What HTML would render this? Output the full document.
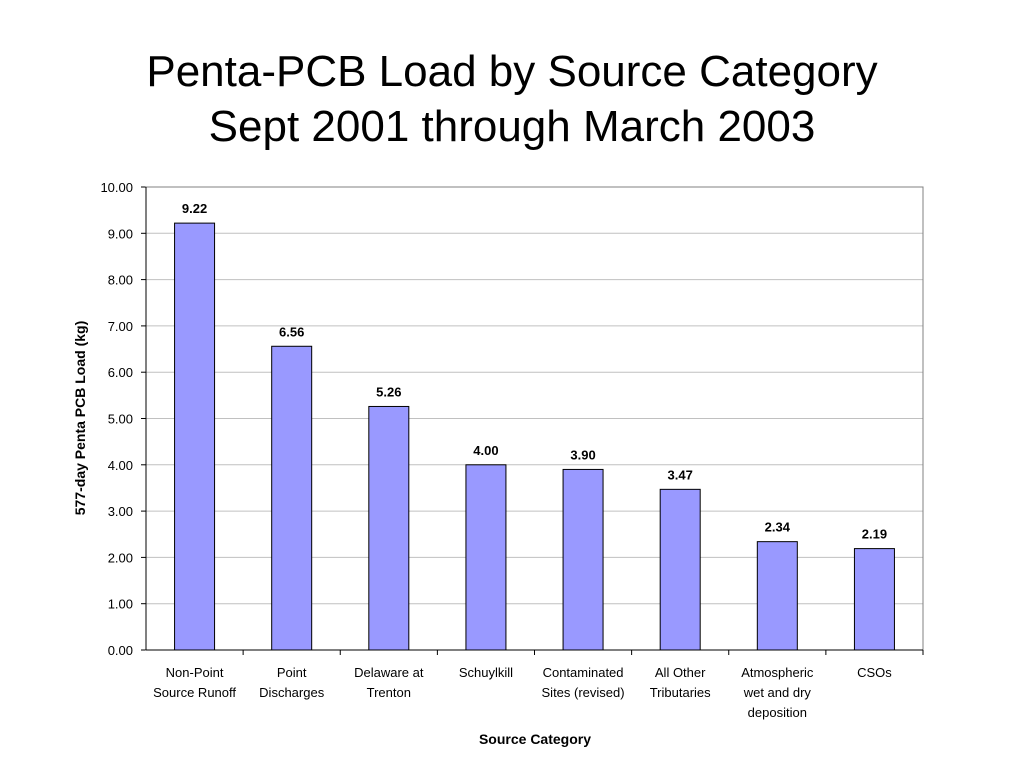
<!DOCTYPE html>
<html><head><meta charset="utf-8"><style>
body{margin:0;background:#fff;font-family:"Liberation Sans",sans-serif}
</style></head><body>
<svg width="1024" height="768">
<text x="512" y="86" text-anchor="middle" font-size="44">Penta-PCB Load by Source Category</text>
<text x="512" y="141" text-anchor="middle" font-size="44">Sept 2001 through March 2003</text>
<g id="plot"></g>
<text transform="translate(85,418) rotate(-90)" text-anchor="middle" font-size="14" font-weight="bold">577-day Penta PCB Load (kg)</text>
<text x="535" y="744" text-anchor="middle" font-size="14" font-weight="bold">Source Category</text>
</svg>
<script>
const categories=[["Non-Point","Source Runoff"],["Point","Discharges"],["Delaware at","Trenton"],["Schuylkill"],["Contaminated","Sites (revised)"],["All Other","Tributaries"],["Atmospheric","wet and dry","deposition"],["CSOs"]];
const values=[9.22,6.56,5.26,4.00,3.90,3.47,2.34,2.19];
const ticks=[0,1,2,3,4,5,6,7,8,9,10];
const L=146,R=923,T=187,B=650;
const y=v=>B-(v/10)*(B-T);
const step=(R-L)/categories.length;
const xc=i=>L+step*(i+0.5);
const g=document.getElementById('plot');
const NS='http://www.w3.org/2000/svg';
function mk(t,a){const e=document.createElementNS(NS,t);for(const k in a)e.setAttribute(k,a[k]);g.appendChild(e);return e;}
ticks.forEach(t=>{
 if(t>0){const l=mk('line',{x1:L,x2:R,y1:y(t),y2:y(t),stroke:'#c0c0c0','stroke-width':1});
 
 }
 const tx=mk('text',{x:133,y:y(t)+5,'text-anchor':'end','font-size':13});tx.textContent=t.toFixed(2);
 
 
 mk('line',{x1:L-5,x2:L,y1:y(t),y2:y(t),stroke:'#000'});
});
const fr=mk('rect',{x:L,y:T,width:R-L,height:B-T,fill:'none',stroke:'#808080'});


mk('line',{x1:L,x2:L,y1:T,y2:B,stroke:'#000'});
mk('line',{x1:L,x2:R,y1:B,y2:B,stroke:'#000'});
values.forEach((v,i)=>{
 const b=mk('rect',{x:xc(i)-20,y:y(v),width:40,height:B-y(v),fill:'#9999ff',stroke:'#000','stroke-width':1});
 
 
 const vl=mk('text',{x:xc(i),y:y(v)-10,'text-anchor':'middle','font-size':13,'font-weight':'bold'});vl.textContent=v.toFixed(2);
 
 
 mk('line',{x1:L+step*(i+1),x2:L+step*(i+1),y1:B,y2:B+5,stroke:'#000'});
 categories[i].forEach((s,j)=>{const c=mk('text',{x:xc(i),y:677+20*j,'text-anchor':'middle','font-size':13});c.textContent=s;
 
 });
});
</script>
</body></html>
